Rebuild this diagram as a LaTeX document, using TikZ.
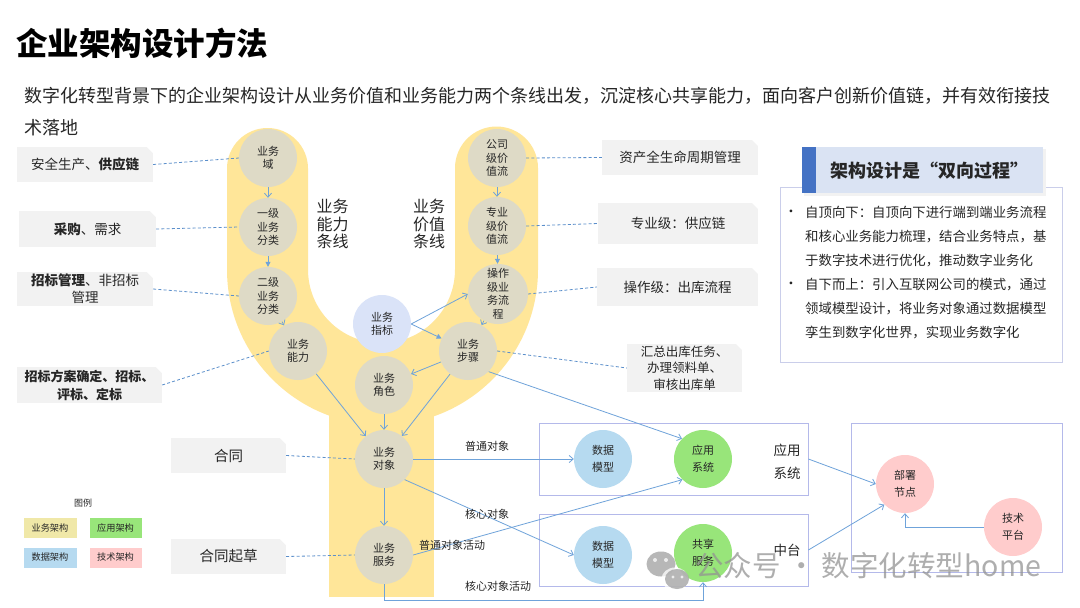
\documentclass[tikz,border=0pt]{standalone}
\usepackage{fontspec}
\setmainfont{Noto Sans CJK SC}
\usetikzlibrary{arrows.meta}
\definecolor{band}{HTML}{FFE699}
\definecolor{beige}{HTML}{DEDAC6}
\definecolor{zbblue}{HTML}{DAE3F8}
\definecolor{datablue}{HTML}{B6DAF0}
\definecolor{appgreen}{HTML}{98E57A}
\definecolor{techpink}{HTML}{FFCCCC}
\definecolor{legyellow}{HTML}{F0E8A8}
\definecolor{boxgray}{HTML}{F2F2F2}
\definecolor{arrowblue}{HTML}{6FA3DA}
\definecolor{dashblue}{HTML}{5B8FCB}
\definecolor{grpborder}{HTML}{B4B9EA}
\definecolor{panelborder}{HTML}{CACEEA}
\definecolor{headfill}{HTML}{DAE3F3}
\definecolor{headbar}{HTML}{4472C4}
\definecolor{txt}{HTML}{262626}
\newcommand\myfs[2]{\fontsize{#1}{#2}\selectfont}
\begin{document}
\begin{tikzpicture}[x=1pt,y=-1pt,
  circ/.style={circle, fill=beige, minimum size=58pt, inner sep=0pt, align=center, text=txt, font=\myfs{11}{13.5}},
  circb/.style={circle, minimum size=58pt, inner sep=0pt, align=center, text=txt, font=\myfs{11}{17}},
  gbox/.style={fill=boxgray, inner sep=0pt, align=center, text=txt, font=\myfs{13.5}{17},
    path picture={\fill[white] ([xshift=-6pt]path picture bounding box.north east) -- (path picture bounding box.north east) -- ([yshift=-6pt]path picture bounding box.north east) -- cycle;}},
  grp/.style={draw=grpborder, line width=0.8pt, inner sep=0pt},
  leg/.style={draw=white, line width=0.8pt, minimum width=54pt, minimum height=21pt, inner sep=0pt, font=\myfs{9.2}{11}, text=txt},
  arr/.style={draw=arrowblue, line width=0.8pt, -{Straight Barb[length=4pt,width=7pt]}},
  arrf/.style={draw=arrowblue, line width=0.8pt, -{Triangle[length=5pt,width=5pt]}},
  dsh/.style={draw=dashblue, line width=0.8pt, dash pattern=on 3pt off 2.2pt},
  lbl/.style={font=\myfs{11}{13}, text=txt, inner sep=0pt}
]
\useasboundingbox (0,0) rectangle (1080,608);
\fill[white] (0,0) rectangle (1080,608);

% title and subtitle
\node[anchor=west, inner sep=0pt, font=\myfs{31.5}{34}\bfseries, text=black] (title) at (16,43) {企业架构设计方法};
\node[anchor=west, inner sep=0pt, font=\myfs{18}{20}, text=txt] (sub1) at (24,96) {数字化转型背景下的企业架构设计从业务价值和业务能力两个条线出发，沉淀核心共享能力，面向客户创新价值链，并有效衔接技};
\node[anchor=west, inner sep=0pt, font=\myfs{18}{20}, text=txt] (sub2) at (24,128) {术落地};

% yellow Y band
\fill[band] (227,168.5) arc[start angle=180,end angle=360,radius=40.5] -- (308,269.5)
  arc[start angle=180,end angle=0,radius=73.5] -- (455,168)
  arc[start angle=180,end angle=360,radius=41.5] -- (538,269.5)
  arc[start angle=0,end angle=180,radius=155.5] -- cycle;
\fill[band] (329,380) rectangle (434,597);

% band labels
\node[align=center, inner sep=0pt, font=\myfs{16}{17.5}, text=txt] (lbl1) at (332.5,224) {业务\\能力\\条线};
\node[align=center, inner sep=0pt, font=\myfs{16}{17.5}, text=txt] (lbl2) at (429,224) {业务\\价值\\条线};

% business circles
\node[circ] (yw) at (268,158) {业务\\域};
\node[circ] (yj) at (268,227) {一级\\业务\\分类};
\node[circ] (ye) at (268,296) {二级\\业务\\分类};
\node[circ] (nl) at (298,351) {业务\\能力};
\node[circ] (gs) at (497,158) {公司\\级价\\值流};
\node[circ] (zy) at (497,226) {专业\\级价\\值流};
\node[circ, minimum size=60pt] (cz) at (498,294) {操作\\级业\\务流\\程};
\node[circ] (bz) at (468,351) {业务\\步骤};
\node[circ, fill=zbblue] (zb) at (382,324) {业务\\指标};
\node[circ] (jc) at (384,385) {业务\\角色};
\node[circ] (dx) at (384,459) {业务\\对象};
\node[circ] (fw) at (384,555) {业务\\服务};

% left gray boxes
\node[gbox, minimum width=136pt, minimum height=35pt] (b1) at (85,164.5) {安全生产、\textbf{供应链}};
\node[gbox, minimum width=137pt, minimum height=36pt] (b2) at (87.5,229) {\textbf{采购}、需求};
\node[gbox, minimum width=136pt, minimum height=34pt] (b3) at (85,289) {\textbf{招标管理}、非招标\\管理};
\node[gbox, minimum width=145pt, minimum height=36pt, font=\myfs{13}{18}\bfseries] (b4) at (89.5,385) {招标方案确定、招标、\\评标、定标};
\node[gbox, minimum width=115pt, minimum height=35pt, font=\myfs{14.5}{17}] (ht) at (228.5,455.5) {合同};
\node[gbox, minimum width=115pt, minimum height=35pt, font=\myfs{14.5}{17}] (htq) at (228.5,556.5) {合同起草};

% right gray boxes
\node[gbox, minimum width=156pt, minimum height=35pt] (r1) at (680,157.5) {资产全生命周期管理};
\node[gbox, minimum width=160pt, minimum height=41pt] (r2) at (678,223.5) {专业级：供应链};
\node[gbox, minimum width=161pt, minimum height=38pt] (r3) at (677.5,287) {操作级：出库流程};
\node[gbox, minimum width=115pt, minimum height=48pt, font=\myfs{12.5}{16.5}] (r4) at (684.5,368) {汇总出库任务、\\办理领料单、\\审核出库单};

% dashed links
\draw[dsh] (b1.east) -- (yw.west);
\draw[dsh] (b2.east) -- (yj.west);
\draw[dsh] (b3.east) -- (ye.west);
\draw[dsh] (b4.east) -- (nl.west);
\draw[dsh] (gs.east) -- (r1.west);
\draw[dsh] (zy.east) -- (r2.west);
\draw[dsh] (cz.east) -- (r3.west);
\draw[dsh] (bz.east) -- (r4.west);
\draw[dsh] (ht.east) -- (dx.west);
\draw[dsh] (htq.east) -- (fw.west);

% group boxes
\node[grp, minimum width=269pt, minimum height=72pt] (g1) at (673.5,459) {};
\node[grp, minimum width=269pt, minimum height=72pt] (g2) at (673.5,550) {};
\node[grp, minimum width=211pt, minimum height=149pt] (g3) at (956.5,497.5) {};
\node[lbl, font=\myfs{13.5}{23}, align=center] (ly) at (787,461.5) {应用\\系统};
\node[lbl, font=\myfs{13.5}{16}] (lz) at (787,550) {中台};

\node[circb, fill=datablue] (sj1) at (603,459) {数据\\模型};
\node[circb, fill=appgreen] (yy) at (703,459) {应用\\系统};
\node[circb, fill=datablue] (sj2) at (603,555) {数据\\模型};
\node[circb, fill=appgreen] (gx) at (703,553) {共享\\服务};
\node[circb, fill=techpink] (bs) at (905,484) {部署\\节点};
\node[circb, fill=techpink] (js) at (1013,527) {技术\\平台};

% arrows in the band
\draw[arr] (yw) -- (yj);
\draw[arrf] (yj) -- (ye);
\draw[arr] (ye) -- (nl);
\draw[arr] (gs) -- (zy);
\draw[arrf] (zy) -- (cz);
\draw[arr] (cz) -- (bz);
\draw[arr] (zb.east) -- (cz.west);
\draw[arrf] (zb.east) -- (bz);
\draw[arr] (bz) -- (jc);
\draw[arr] (nl) -- (dx);
\draw[arr] (jc) -- (dx);
\draw[arr] (bz) -- (dx);
\draw[arr] (dx) -- (fw);

% arrows to application / data
\draw[arr] (bz.-45) -- (yy.136);
\draw[arr] (dx.east) -- (sj1.west);
\draw[arr] (dx.-45) -- (sj2.west);
\draw[arr] (fw.east) -- (yy.-135);
\draw[arr] (fw.south) -- ++(0,16) -| (gx.south);
\draw[arr] (g1.east) -- (bs.west);
\draw[arr] (g2.east) -- (bs.-135);
\draw[arr] (js.west) -| (bs.south);

% connector labels
\node[lbl] (l1) at (487,446) {普通对象};
\node[lbl] (l2) at (487,514) {核心对象};
\node[lbl] (l3) at (452,545) {普通对象活动};
\node[lbl] (l4) at (498,586) {核心对象活动};

% legend
\node[font=\myfs{9}{11}, text=txt, inner sep=0pt] (lgt) at (83,503) {图例};
\node[leg, fill=legyellow] (lg1) at (50,527.5) {业务架构};
\node[leg, fill=appgreen, minimum width=53pt] (lg2) at (115.5,527.5) {应用架构};
\node[leg, fill=datablue] (lg3) at (50,557.5) {数据架构};
\node[leg, fill=techpink, minimum width=53pt] (lg4) at (115.5,557.5) {技术架构};

% right panel
\node[draw=panelborder, line width=0.8pt, fill=white, minimum width=282pt, minimum height=175pt, inner sep=0pt] (panel) at (921,274.5) {};
\fill[black!5] (804,149) rectangle (1046,195.5);
\node[fill=headfill, minimum width=241pt, minimum height=46pt, inner sep=0pt] (head) at (922.5,170) {};
\fill[headbar] (head.north west) rectangle ([xshift=14pt]head.south west);
\node[font=\myfs{18}{20}\bfseries, text=txt, inner sep=0pt] (headt) at (929,171) {架构设计是“双向过程”};
\node[font=\myfs{13.4}{24}, text=txt, inner sep=0pt] (bul1) at (791,213) {•};
\node[font=\myfs{13.4}{24}, text=txt, inner sep=0pt] (bul2) at (791,285) {•};
\node[anchor=west, align=left, font=\myfs{13.4}{24}, text=txt, inner sep=0pt] (ptext) at (805,273) {自顶向下：自顶向下进行端到端业务流程\\和核心业务能力梳理，结合业务特点，基\\于数字技术进行优化，推动数字业务化\\自下而上：引入互联网公司的模式，通过\\领域模型设计，将业务对象通过数据模型\\孪生到数字化世界，实现业务数字化};

% watermark
\begin{scope}[opacity=0.75]
\fill[gray!75] (661,564) ellipse[x radius=14.5, y radius=12.5];
\fill[white] (675,579) ellipse[x radius=13.5, y radius=11.5];
\fill[gray!75] (677,579) ellipse[x radius=12, y radius=10];
\fill[white] (655,560) circle[radius=2];
\fill[white] (666,560) circle[radius=2];
\fill[white] (673,577) circle[radius=1.6];
\fill[white] (682,577) circle[radius=1.6];
\node[anchor=west, inner sep=0pt, font=\myfs{28.5}{30}, text=gray!85] (wm) at (695,566) {公众号 · 数字化转型home};
\end{scope}
\end{tikzpicture}
\end{document}
